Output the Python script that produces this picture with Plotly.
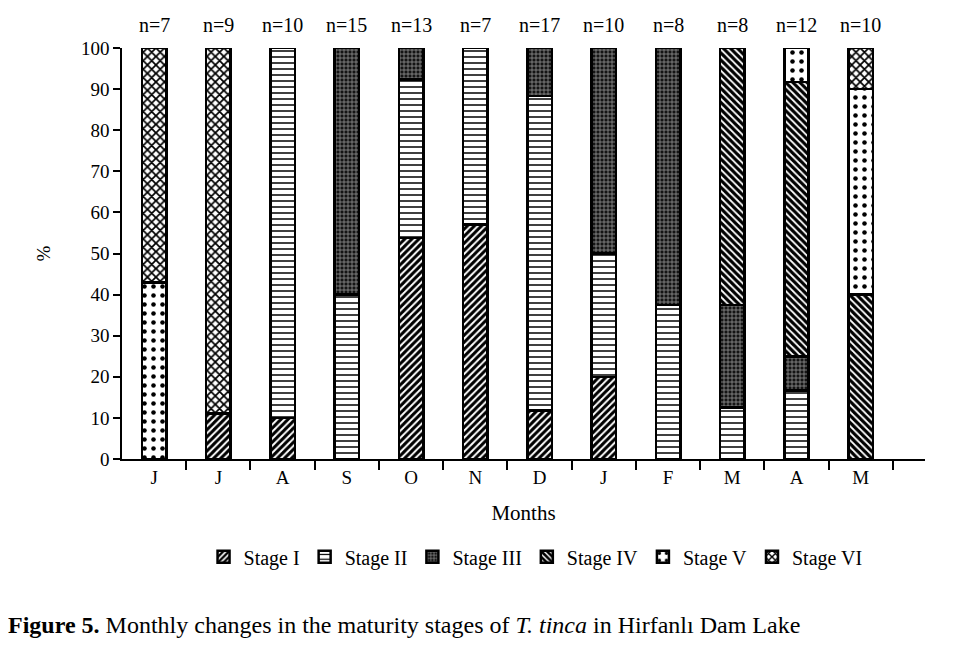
import plotly.graph_objects as go

months = ["J", "J", "A", "S", "O", "N", "D", "J", "F", "M", "A", "M"]
n_labels = ["n=7", "n=9", "n=10", "n=15", "n=13", "n=7", "n=17", "n=10", "n=8", "n=8", "n=12", "n=10"]

stage_I = [0, 11.1, 10, 0, 53.8, 57.1, 11.8, 20, 0, 0, 0, 0]
stage_II = [0, 0, 90, 40, 38.5, 42.9, 76.5, 30, 37.5, 12.5, 16.7, 0]
stage_III = [0, 0, 0, 60, 7.7, 0, 11.8, 50, 62.5, 25, 8.3, 0]
stage_IV = [0, 0, 0, 0, 0, 0, 0, 0, 0, 62.5, 66.7, 40]
stage_V = [42.9, 0, 0, 0, 0, 0, 0, 0, 0, 0, 8.3, 50]
stage_VI = [57.1, 88.9, 0, 0, 0, 0, 0, 0, 0, 0, 0, 10]

series = [
    ("Stage I", stage_I, dict(shape="/", fgcolor="black", bgcolor="white", size=5, solidity=0.6, fgopacity=1)),
    ("Stage II", stage_II, dict(shape="-", fgcolor="black", bgcolor="white", size=6, solidity=0.25, fgopacity=1)),
    ("Stage III", stage_III, dict(shape="+", fgcolor="#959595", bgcolor="#141414", size=4, solidity=0.35, fgopacity=1)),
    ("Stage IV", stage_IV, dict(shape="\\", fgcolor="black", bgcolor="white", size=5, solidity=0.65, fgopacity=1)),
    ("Stage V", stage_V, dict(shape=".", fgcolor="black", bgcolor="white", size=9, solidity=0.2, fgopacity=1)),
    ("Stage VI", stage_VI, dict(shape="x", fgcolor="black", bgcolor="white", size=6, solidity=0.5, fgopacity=1)),
]

xs = list(range(len(months)))
fig = go.Figure()
for name, vals, pat in series:
    fig.add_trace(go.Bar(
        x=xs, y=vals, name=name, width=0.38,
        marker=dict(color="white", pattern=pat, line=dict(color="black", width=2.5)),
    ))

font_family = "Liberation Serif, Times New Roman, serif"

for i, t in enumerate(n_labels):
    fig.add_annotation(x=i, y=100, yref="y", text=t, showarrow=False,
                       yshift=23, font=dict(size=20, color="black", family=font_family))

fig.add_annotation(xref="paper", yref="paper", x=-0.145, y=-0.404, xanchor="left", yanchor="middle",
                   text="<b>Figure 5.</b> Monthly changes in the maturity stages of <i>T. tinca</i> in Hirfanlı Dam Lake",
                   showarrow=False, font=dict(size=24, color="black", family=font_family))

fig.update_layout(
    width=963, height=650,
    barmode="stack",
    plot_bgcolor="white", paper_bgcolor="white",
    margin=dict(l=114, r=46, t=40, b=199),
    font=dict(family=font_family, size=19, color="black"),
    showlegend=True,
    legend=dict(orientation="h", x=0.515, xanchor="center", y=-0.238, yanchor="middle",
                font=dict(size=20), itemwidth=30, tracegroupgap=0, traceorder="normal"),
    xaxis=dict(
        range=[-0.5, 12.0], tickmode="array", tickvals=xs, ticktext=months,
        ticks="", showline=True, linecolor="black", linewidth=1.5, showgrid=False, zeroline=False,
        title=dict(text="Months", standoff=19, font=dict(size=21)),
        minor=dict(tickmode="array", tickvals=[k + 0.5 for k in range(12)], ticks="outside",
                   ticklen=9, tickcolor="black", tickwidth=1.5, showgrid=False),
    ),
    yaxis=dict(
        range=[0, 100], tickvals=list(range(0, 101, 10)), ticks="outside", ticklen=7,
        tickcolor="black", tickwidth=1.5, showline=True, linecolor="black", linewidth=1.5,
        showgrid=False, zeroline=False,
        title=dict(text="%", standoff=25, font=dict(size=19)),
    ),
)

fig.write_html("out.html")
